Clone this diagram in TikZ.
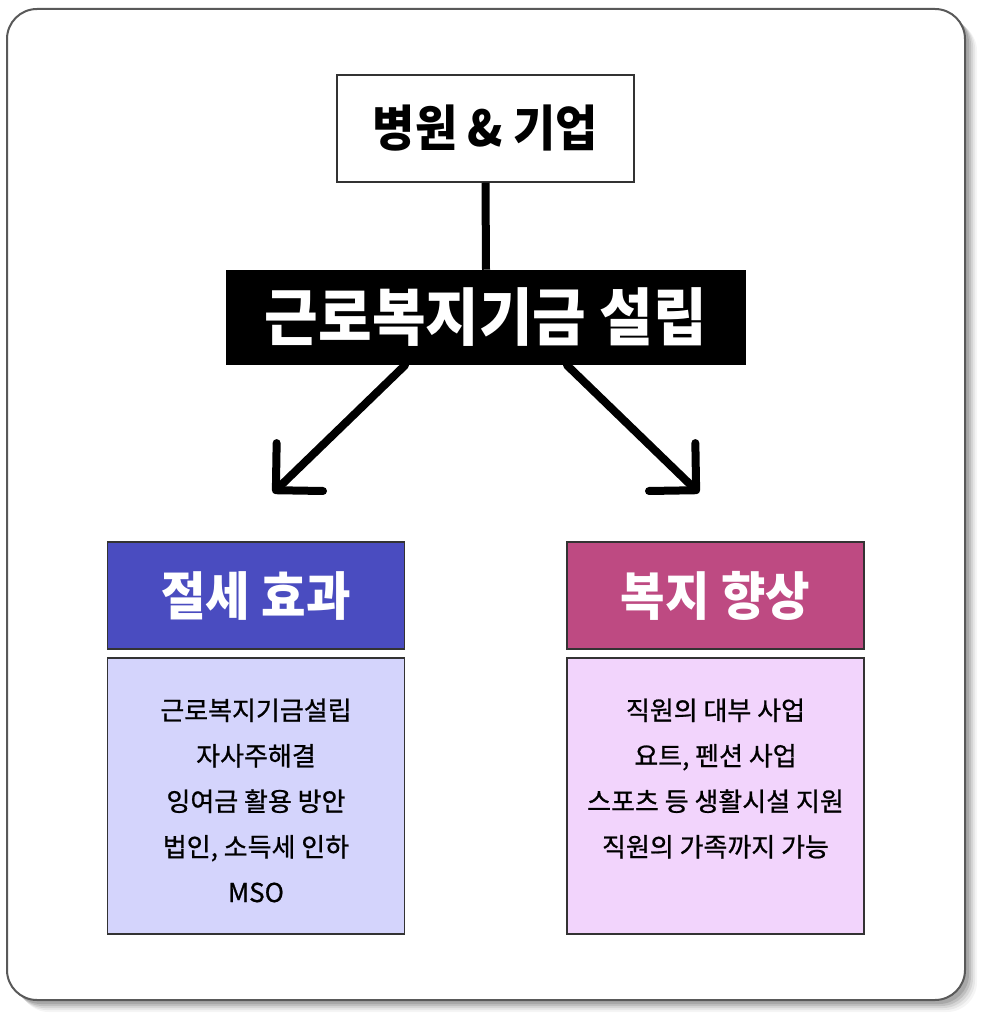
\documentclass[tikz,border=0pt]{standalone}
\usepackage{fontspec}
\setmainfont{Noto Sans CJK KR}[FakeStretch=0.93]
\newfontfamily\itemfont{Noto Sans CJK KR}[FakeBold=0.8]
\usetikzlibrary{arrows.meta,positioning}

\definecolor{taxblue}{HTML}{4A4CC0}
\definecolor{taxlight}{HTML}{D4D4FC}
\definecolor{welfpink}{HTML}{BE4A82}
\definecolor{welflight}{HTML}{F2D4FC}

\begin{document}
\begin{tikzpicture}[x=0.75pt,y=-0.75pt,
	box/.style={draw=black!80,line width=1.1pt,rectangle,inner sep=0},
	title box/.style={box,minimum width=223pt,minimum height=80.25pt,text=white,font=\fontsize{39pt}{42pt}\selectfont\bfseries},
	list box/.style={box,minimum width=223pt,minimum height=207pt},
	item/.style={font=\itemfont\fontsize{19.5pt}{22pt}\selectfont,anchor=base},
	link/.style={line width=6pt,line cap=round}]
	
	\useasboundingbox (0,0) rectangle (990,1024);
	
	% frame with soft shadow
	\foreach \o/\a in {12/0.04,10/0.06,8/0.08,6/0.1,4/0.12}
	\fill[black,opacity=\a,rounded corners=22.5pt] (7+\o,9+\o) rectangle (965+\o,1000+\o);
	\draw[fill=white,draw=black!65,line width=1.5pt,rounded corners=22.5pt] (7,9) rectangle (965,1000);
	
	\node[box,fill=white,minimum width=222.75pt,minimum height=80.25pt,font=\fontsize{37pt}{40pt}\selectfont\bfseries] (org) at (485.5,128.5) {병원 \& 기업};
	\node[fill=black,minimum width=390pt,minimum height=71.25pt,inner sep=0,text=white,font=\fontsize{47pt}{50pt}\selectfont\bfseries] (fund) at (486,317.5) {근로복지기금 설립};
	
	\coordinate (tipL) at (273,493);
	\coordinate (tipR) at (699,493);
	
	\draw[link,line cap=butt] (org.south) -- (fund.north);
	\draw[link,-{Straight Barb[length=25pt,width=50pt,round]}] ([xshift=-60.75pt]fund.south) -- (tipL);
	\draw[link,-{Straight Barb[length=25pt,width=50pt,round]}] ([xshift=60.75pt]fund.south) -- (tipR);
	
	\node[title box,fill=taxblue] (tax) at (256,595.5) {절세 효과};
	\node[list box,fill=taxlight] (taxlist) at (256,796) {};
	
	\node[title box,fill=welfpink] (welf) at (715.5,595.5) {복지 향상};
	\node[list box,fill=welflight] (welflist) at (715.5,796) {};
	
	\foreach \t [count=\i] in {근로복지기금설립,자사주해결,잉여금 활용 방안,{법인, 소득세 인하},MSO}
	\node[item] (l\i) at (256,{720+45.5*(\i-1)}) {\t};
	
	\foreach \t [count=\i] in {직원의 대부 사업,{요트, 펜션 사업},스포츠 등 생활시설 지원,직원의 가족까지 가능}
	\node[item] (r\i) at (715.5,{720+45.5*(\i-1)}) {\t};
	
\end{tikzpicture}
\end{document}
